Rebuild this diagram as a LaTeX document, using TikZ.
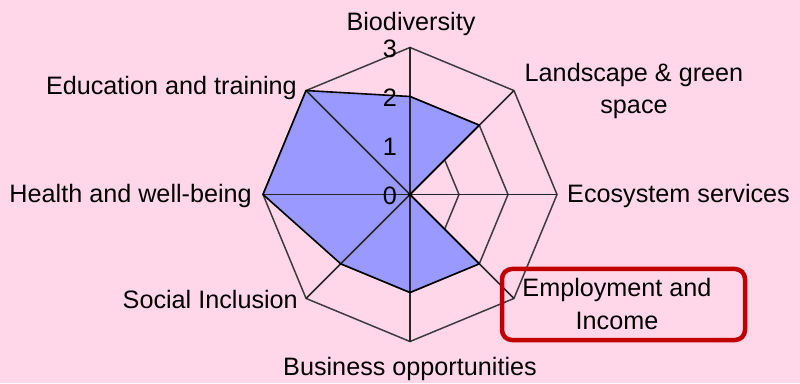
\documentclass[tikz,border=0pt]{standalone}
\usepackage{fontspec}
\setmainfont{Liberation Sans}
\definecolor{bgpink}{HTML}{FFD7E8}
\definecolor{polyfill}{HTML}{9999FF}
\definecolor{boxred}{HTML}{C00000}
\definecolor{gridgray}{HTML}{3C3C3C}
\begin{document}
\begin{tikzpicture}[x=1pt,y=1pt,
  lbl/.style={font=\fontsize{25.2}{32.5}\selectfont, inner sep=0pt, text=black},
  ticklbl/.style={font=\fontsize{25.2}{30}\selectfont, inner sep=0pt, text=black, anchor=base east},
  gridline/.style={draw=gridgray, line width=1.5pt},
  axisline/.style={draw=black!85, line width=1.5pt},
  outline/.style={draw=black, line width=1.6pt, line join=round}]
\fill[bgpink] (0,0) rectangle (800,383);
\useasboundingbox (0,0) rectangle (800,383);
\begin{scope}[shift={(410,188.5)}]
  \coordinate (O) at (0,0);
  \foreach \a/\n in {90/bio,45/land,0/eco,-45/emp,-90/bus,-135/soc,180/hea,135/edu}{
    \coordinate (\n1) at (\a:49);
    \coordinate (\n2) at (\a:98);
    \coordinate (\n3) at (\a:147);
  }
  % web rings
  \foreach \r in {1,2,3}{
    \draw[gridline] (bio\r)--(land\r)--(eco\r)--(emp\r)--(bus\r)--(soc\r)--(hea\r)--(edu\r)--cycle;
  }
  % data polygon
  \fill[polyfill] (bio2)--(land2)--(O)--(emp2)--(bus2)--(soc2)--(hea3)--(edu3)--cycle;
  % axes
  \foreach \n in {bio,land,eco,emp,bus,soc,hea,edu}{
    \draw[axisline] (O)--(\n3);
  }
  \draw[outline] (bio2)--(land2)--(O)--(emp2)--(bus2)--(soc2)--(hea3)--(edu3)--cycle;
  \fill[black] (O) circle (2);
  % tick labels
  \node[ticklbl] (t0) at (-13,-10) {0};
  \node[ticklbl] (t1) at (-13,39) {1};
  \node[ticklbl] (t2) at (-13,88) {2};
  \node[ticklbl] (t3) at (-13,137) {3};
\end{scope}
% category labels
\node[lbl, anchor=base] (lbio) at (411,352) {Biodiversity};
\node[lbl, align=center] (lland) at (634,292) {Landscape \& green\\space};
\node[lbl, anchor=base west] (leco) at (567,180) {Ecosystem services};
\node[lbl, align=center] (lemp) at (617,79) {Employment and\\Income};
\node[lbl, anchor=base] (lbus) at (410,8) {Business opportunities};
\node[lbl, anchor=base east] (lsoc) at (298,75) {Social Inclusion};
\node[lbl, anchor=base east] (lhea) at (252,180) {Health and well-being};
\node[lbl, anchor=base east] (ledu) at (297,288) {Education and training};
% highlight box
\node[draw=boxred, line width=4.5pt, rounded corners=10pt, minimum width=243pt, minimum height=71pt, inner sep=0pt] (hl) at (623.5,78.5) {};
\end{tikzpicture}
\end{document}
